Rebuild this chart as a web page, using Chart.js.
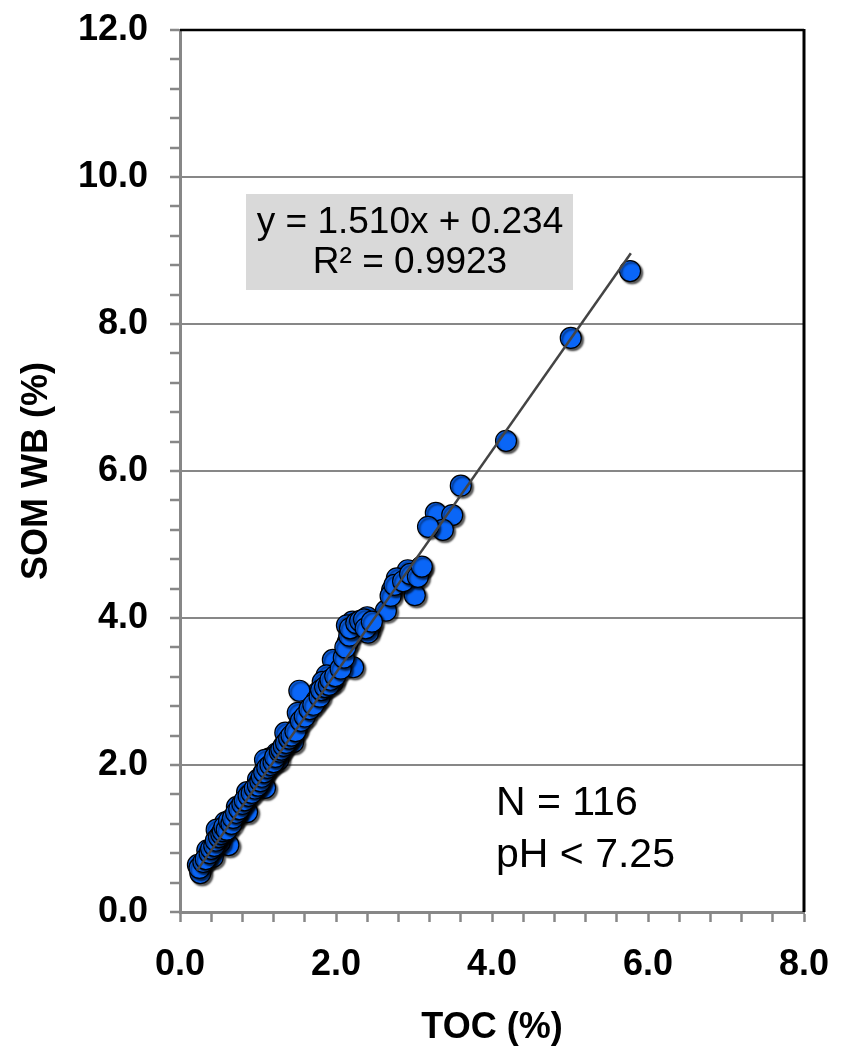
<!DOCTYPE html>
<html>
<head>
<meta charset="utf-8">
<script src="https://cdn.jsdelivr.net/npm/chart.js@4"></script>
<style>
  html, body { margin: 0; padding: 0; background: #fff; }
  #wrap { width: 850px; height: 1052px; position: relative; }
</style>
</head>
<body>
<div id="wrap"><canvas id="chart"></canvas></div>
<script>
// TOC (%) vs SOM WB (%), same order in both arrays
const tocValues = [
  5.77, 5.01, 4.18, 3.60, 3.28, 3.49, 3.37, 3.18, 3.08, 2.92,
  2.99, 2.78, 2.72, 3.01, 2.64, 2.40, 2.44, 2.21, 2.14, 2.22,
  2.41, 2.15, 2.22, 1.96, 1.88, 1.96, 1.83, 1.77, 1.53, 1.75,
  1.51, 1.50, 1.35, 1.45, 1.24, 1.15, 1.26, 1.09, 1.07, 1.09,
  1.00, 0.86, 0.86, 0.73, 0.71, 0.58, 0.62, 0.51, 0.47, 0.35,
  0.42, 0.23, 0.26,
  0.25, 0.30, 0.33, 0.38, 0.40, 0.44, 0.46, 0.50, 0.53, 0.55,
  0.57, 0.60, 0.63, 0.66, 0.68, 0.72, 0.76, 0.80, 0.83, 0.88,
  0.92, 0.96, 1.00, 1.03, 1.05, 1.08, 1.12, 1.16, 1.20, 1.22,
  1.28, 1.30, 1.33, 1.36, 1.40, 1.43, 1.48, 1.55, 1.60, 1.66,
  1.71, 1.79, 1.81, 1.86, 1.91, 1.93, 1.99, 2.06, 2.10, 2.12,
  2.17, 2.18, 2.26, 2.31, 2.36, 2.38, 2.46, 2.70, 2.75, 2.86,
  2.95, 3.05, 3.10
];
const somValues = [
  8.72, 7.81, 6.41, 5.80, 5.43, 5.40, 5.20, 5.24, 4.68, 4.65,
  4.52, 4.54, 4.38, 4.31, 4.10, 4.01, 3.88, 3.95, 3.90, 3.81,
  3.80, 3.67, 3.33, 3.43, 3.22, 3.13, 3.13, 2.99, 3.01, 2.88,
  2.71, 2.50, 2.44, 2.31, 2.16, 2.09, 2.07, 2.07, 1.89, 1.69,
  1.80, 1.63, 1.36, 1.43, 1.29, 1.22, 0.91, 0.95, 1.12, 0.84,
  0.75, 0.64, 0.53,
  0.60, 0.68, 0.72, 0.80, 0.86, 0.90, 0.97, 1.02, 1.06, 1.10,
  1.16, 1.12, 1.24, 1.20, 1.28, 1.35, 1.40, 1.47, 1.52, 1.58,
  1.62, 1.68, 1.72, 1.78, 1.84, 1.90, 1.96, 2.00, 2.04, 2.11,
  2.18, 2.21, 2.26, 2.30, 2.36, 2.40, 2.46, 2.60, 2.66, 2.76,
  2.82, 2.93, 3.02, 3.06, 3.09, 3.16, 3.21, 3.31, 3.46, 3.60,
  3.76, 3.86, 3.93, 3.96, 3.98, 3.86, 3.95, 4.30, 4.45, 4.50,
  4.60, 4.56, 4.70
];

// linear fit shown in the box
const slope = 1.510;
const intercept = 0.234;
const trendX = [0.22, 5.78];
const equationLines = ['y = 1.510x + 0.234', 'R\u00b2 = 0.9923'];
const noteLines = ['N = 116', 'pH < 7.25'];

const xRange = [0, 8];
const yRange = [0, 12];
const minorStep = 0.4;
const labelStep = 2;

const FONT = '"Liberation Sans", Arial, Helvetica, sans-serif';
const AXIS_GREY = '#878787';

const isLabelTick = (v) => Math.abs(v / labelStep - Math.round(v / labelStep)) < 1e-6;

const points = tocValues.map((x, i) => ({ x, y: somValues[i] }));
const trend = trendX.map((x) => ({ x, y: slope * x + intercept }));

// drop shadow under the markers, like the spreadsheet original
const markerShadow = {
  id: 'markerShadow',
  beforeDatasetDraw(chart, args) {
    if (args.index !== 0) return;
    const ctx = chart.ctx;
    ctx.save();
    ctx.shadowColor = 'rgba(0,0,0,0.65)';
    ctx.shadowOffsetX = 2;
    ctx.shadowOffsetY = 2;
    ctx.shadowBlur = 2;
  },
  afterDatasetDraw(chart, args) {
    if (args.index !== 0) return;
    chart.ctx.restore();
  },
};

// black top/right frame, fit equation box and the sample note
const decorations = {
  id: 'decorations',
  afterDraw(chart) {
    const { ctx, chartArea: a } = chart;
    ctx.save();
    ctx.strokeStyle = '#000';
    ctx.lineWidth = 2.5;
    ctx.beginPath();
    ctx.moveTo(a.left, a.top);
    ctx.lineTo(a.right, a.top);
    ctx.stroke();
    ctx.lineWidth = 3;
    ctx.beginPath();
    ctx.moveTo(a.right, a.top - 1);
    ctx.lineTo(a.right, a.bottom);
    ctx.stroke();

    ctx.fillStyle = '#d9d9d9';
    ctx.fillRect(246, 194, 327, 96);
    ctx.fillStyle = '#000';
    ctx.font = '37px ' + FONT;
    ctx.textAlign = 'center';
    ctx.textBaseline = 'alphabetic';
    ctx.fillText(equationLines[0], 410, 233);
    ctx.fillText(equationLines[1], 410, 273);

    ctx.font = '41px ' + FONT;
    ctx.textAlign = 'left';
    ctx.fillText(noteLines[0], 496, 815);
    ctx.fillText(noteLines[1], 496, 867);
    ctx.restore();
  },
};

new Chart(document.getElementById('chart'), {
  type: 'scatter',
  data: {
    datasets: [
      {
        label: 'samples',
        data: points,
        backgroundColor: '#0a66f7',
        borderColor: '#000',
        borderWidth: 1.2,
        pointRadius: 10.5,
        order: 2,
      },
      {
        type: 'line',
        label: 'fit',
        data: trend,
        borderColor: '#444',
        borderWidth: 2.5,
        pointRadius: 0,
        fill: false,
        order: 1,
      },
    ],
  },
  options: {
    responsive: true,
    maintainAspectRatio: false,
    animation: false,
    layout: { padding: { top: 30, right: 46, left: 0, bottom: 0 } },
    plugins: {
      legend: { display: false },
      tooltip: { enabled: false },
    },
    scales: {
      x: {
        type: 'linear',
        min: xRange[0],
        max: xRange[1],
        afterFit(scale) {
          scale.height = 140;
          scale.paddingLeft = 0;
          scale.paddingRight = 0;
        },
        ticks: {
          stepSize: minorStep,
          autoSkip: false,
          maxRotation: 0,
          padding: 21,
          color: '#000',
          font: { family: FONT, size: 36, weight: 'bold' },
          callback: (v) => (isLabelTick(v) ? Number(v).toFixed(1) : ''),
        },
        grid: {
          color: 'rgba(0,0,0,0)',
          tickColor: AXIS_GREY,
          tickLength: 10,
          tickWidth: 2.5,
        },
        border: { color: AXIS_GREY, width: 3 },
        title: {
          display: true,
          text: 'TOC (%)',
          color: '#000',
          font: { family: FONT, size: 36, weight: 'bold' },
          padding: { top: 0, bottom: 2 },
        },
      },
      y: {
        type: 'linear',
        min: yRange[0],
        max: yRange[1],
        afterFit(scale) {
          scale.width = 180;
          scale.paddingTop = 0;
          scale.paddingBottom = 0;
        },
        ticks: {
          stepSize: minorStep,
          autoSkip: false,
          padding: 22,
          color: '#000',
          font: { family: FONT, size: 36, weight: 'bold' },
          callback: (v) => (isLabelTick(v) ? Number(v).toFixed(1) : ''),
        },
        grid: {
          color: (c) => (c.tick && isLabelTick(c.tick.value) ? AXIS_GREY : 'rgba(0,0,0,0)'),
          lineWidth: 2,
          tickColor: AXIS_GREY,
          tickLength: 10,
          tickWidth: 2.5,
        },
        border: { color: AXIS_GREY, width: 3 },
        title: {
          display: true,
          text: 'SOM WB (%)',
          color: '#000',
          font: { family: FONT, size: 36, weight: 'bold' },
          padding: { top: 15, bottom: 0 },
        },
      },
    },
  },
  plugins: [markerShadow, decorations],
});
</script>
</body>
</html>
